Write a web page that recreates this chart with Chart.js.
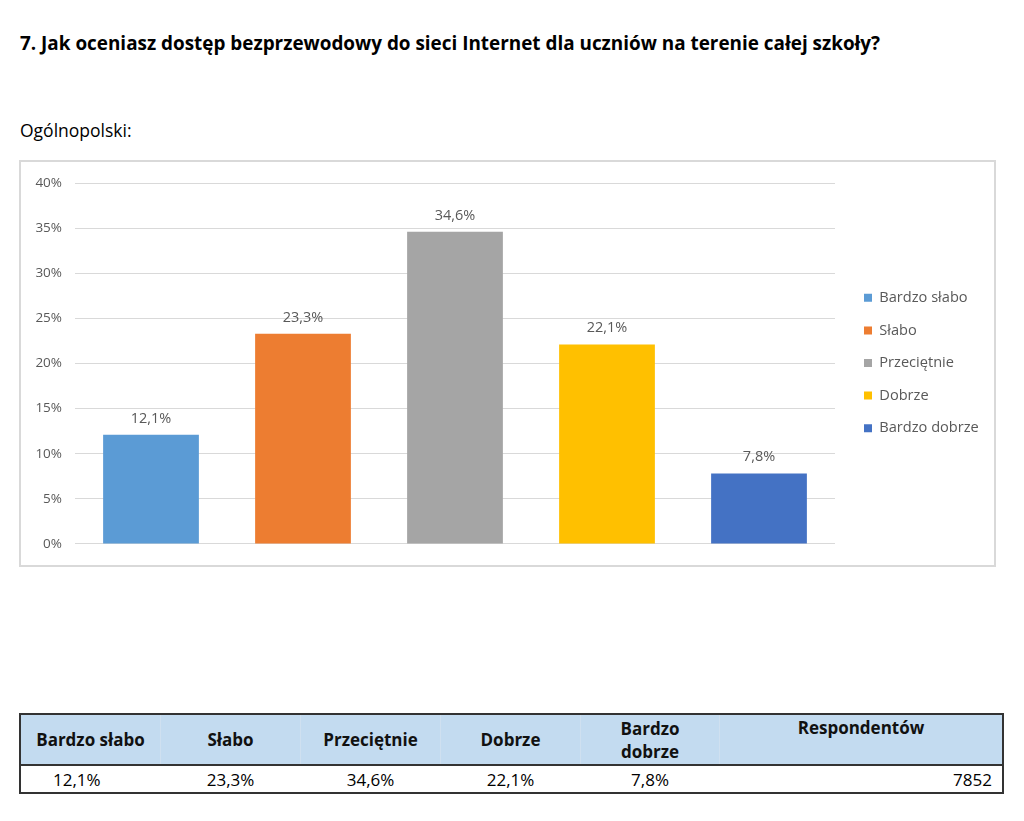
<!DOCTYPE html>
<html lang="pl">
<head>
<meta charset="utf-8">
<script src="https://cdn.jsdelivr.net/npm/chart.js@4.4.1/dist/chart.umd.min.js"></script>
<style>
  body { margin: 0; background: #fff; font-family: "Open Sans", sans-serif; color: #000; }
  .page { position: relative; width: 1024px; height: 821px; }
  .title { position: absolute; left: 20px; top: 30px; font-size: 18.9px; font-weight: bold; white-space: nowrap; }
  .sub { position: absolute; left: 20px; top: 118px; font-size: 17.5px; white-space: nowrap; }
  .box { position: absolute; left: 19px; top: 160px; width: 973px; height: 403px; border: 2px solid #d9d9d9; }
  .box canvas { display: block; }
  table { position: absolute; left: 19px; top: 713px; width: 985px; border-collapse: collapse; font-size: 17px;
          border-left: 2px solid #333; border-right: 2px solid #333; }
  th { background: #c3dbf0; color: #111; font-weight: bold; height: 48px; padding: 0; border-left: 1px solid #cfe0f0; line-height: 23px; }
  th.resp { vertical-align: top; padding-top: 1px; }
  td { text-align: center; height: 26px; padding: 0; }
  tr.head { border-top: 2px solid #333; border-bottom: 2px solid #333; }
  tr.vals { border-bottom: 2px solid #333; }
</style>
</head>
<body>
<div class="page">
  <div class="title">7. Jak oceniasz dostęp bezprzewodowy do sieci Internet dla uczniów na terenie całej szkoły?</div>
  <div class="sub">Ogólnopolski:</div>
  <div class="box"><canvas id="chart" width="973" height="403"></canvas></div>
  <table>
    <tr class="head">
      <th style="width:139px">Bardzo słabo</th>
      <th style="width:139px">Słabo</th>
      <th style="width:139px">Przeciętnie</th>
      <th style="width:139px">Dobrze</th>
      <th style="width:138px">Bardzo<br>dobrze</th>
      <th class="resp">Respondentów</th>
    </tr>
    <tr class="vals">
      <td style="padding-right:28px">12,1%</td>
      <td>23,3%</td>
      <td>34,6%</td>
      <td>22,1%</td>
      <td>7,8%</td>
      <td style="text-align:right;padding-right:10px">7852</td>
    </tr>
  </table>
</div>
<script>
// data
const categories = ["Bardzo słabo", "Słabo", "Przeciętnie", "Dobrze", "Bardzo dobrze"];
const values = [12.1, 23.3, 34.6, 22.1, 7.8];
const colors = ["#5b9bd5", "#ed7d31", "#a5a5a5", "#ffc000", "#4472c4"];
const yTicks = [0, 5, 10, 15, 20, 25, 30, 35, 40];

const textColor = "#595959";
const fontFamily = "'Open Sans', sans-serif";

const fmt = v => v.toFixed(1).replace(".", ",") + "%";

// value labels above bars
const barLabels = {
  id: "barLabels",
  afterDatasetsDraw(chart) {
    const ctx = chart.ctx;
    const meta = chart.getDatasetMeta(0);
    ctx.save();
    ctx.font = "14.5px " + fontFamily;
    ctx.fillStyle = textColor;
    ctx.textAlign = "center";
    ctx.textBaseline = "bottom";
    meta.data.forEach((bar, i) => {
      ctx.fillText(fmt(values[i]), bar.x, bar.y - 9);
    });
    ctx.restore();
  }
};

// legend width so the plot ends where the reference does
const legendFont = 14.6;
const mctx = document.createElement("canvas").getContext("2d");
mctx.font = legendFont + "px " + fontFamily;
const longest = Math.max(...categories.map(c => mctx.measureText(c).width));
const legendW = 18 + 8 + legendFont / 2 + longest + 10;
const padRight = Math.max(0, 973 - (814 + 11 + legendW));

new Chart(document.getElementById("chart"), {
  type: "bar",
  data: {
    labels: categories,
    datasets: [{
      data: values,
      backgroundColor: colors,
      categoryPercentage: 1,
      barPercentage: 0.63
    }]
  },
  options: {
    responsive: false,
    animation: false,
    layout: { padding: { left: 0, right: padRight, top: 19, bottom: 20 } },
    scales: {
      x: { display: false },
      y: {
        min: 0,
        max: 40,
        afterBuildTicks: s => { s.ticks = yTicks.map(v => ({ value: v })); },
        afterFit: s => { s.width = 54; },
        grid: { color: "#d9d9d9", drawTicks: false },
        border: { display: false },
        ticks: {
          padding: 13,
          color: textColor,
          font: { family: fontFamily, size: 13.5 },
          callback: v => v + "%"
        }
      },
      gap: {
        position: "right",
        display: true,
        grid: { display: false, drawTicks: false },
        border: { display: false },
        ticks: { display: false },
        afterFit: s => { s.width = 11; }
      }
    },
    plugins: {
      tooltip: { enabled: false },
      legend: {
        position: "right",
        labels: {
          boxWidth: 8,
          boxHeight: 8,
          padding: 18,
          color: textColor,
          font: { family: fontFamily, size: legendFont },
          generateLabels: chart => chart.data.labels.map((l, i) => ({
            text: l,
            fillStyle: colors[i],
            strokeStyle: colors[i],
            lineWidth: 0,
            fontColor: textColor,
            hidden: false,
            index: i
          }))
        }
      }
    }
  },
  plugins: [barLabels]
});
</script>
</body>
</html>
